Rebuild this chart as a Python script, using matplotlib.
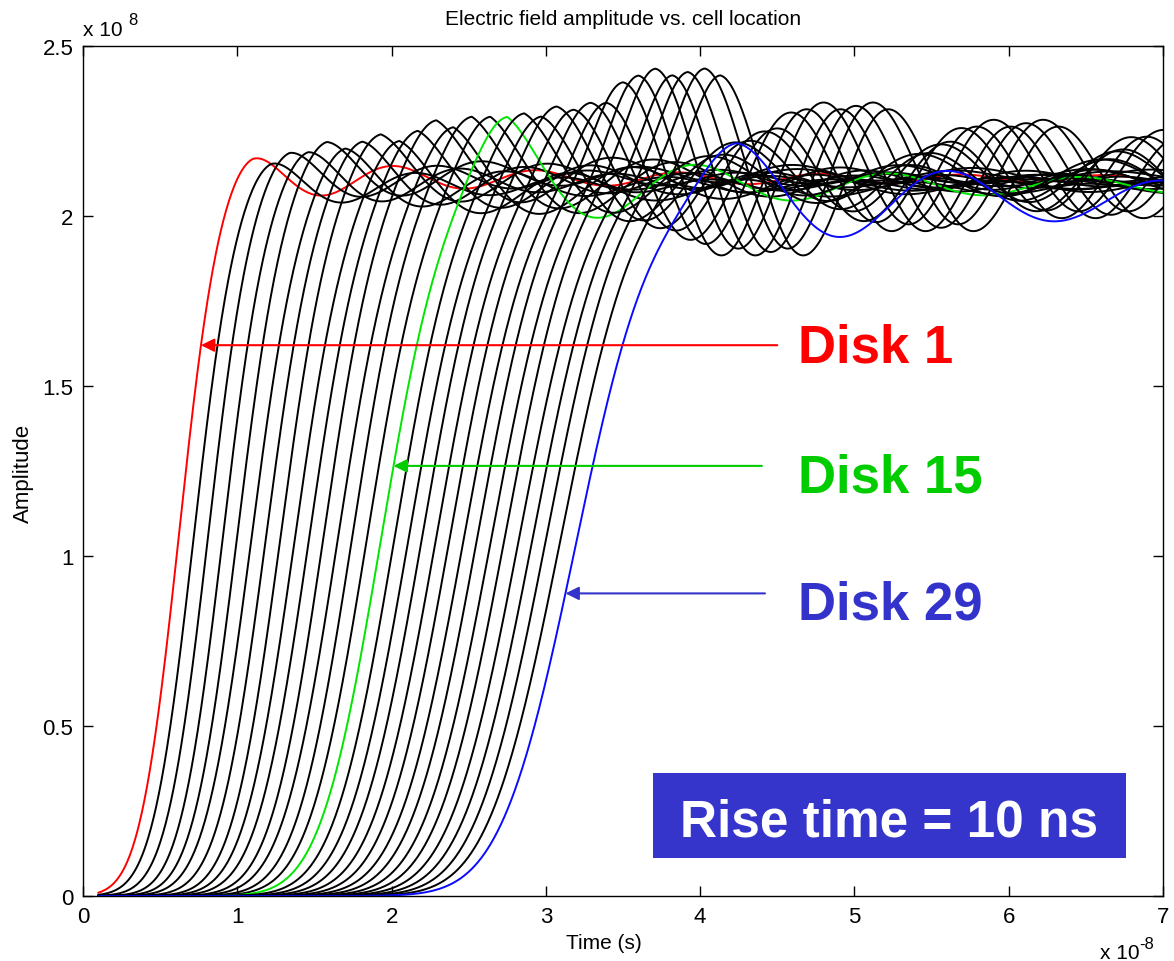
import math
import numpy as np
import matplotlib
matplotlib.use("Agg")
import matplotlib.pyplot as plt
from matplotlib.patches import Rectangle

# ---- per-disk waveform parameters (time in 1e-8 s, amplitude in 1e8) ----
disks = list(range(1, 30))
rise_mid = [0.62, 0.715, 0.81, 0.905, 1.00, 1.09, 1.185, 1.28, 1.37, 1.465,
            1.56, 1.65, 1.745, 1.84, 1.93, 2.02, 2.11, 2.20, 2.29, 2.38,
            2.47, 2.56, 2.65, 2.74, 2.83, 2.92, 3.01, 3.10, 3.19]
rise_spread = [0.20, 0.21, 0.215, 0.22, 0.23, 0.24, 0.245, 0.25, 0.26, 0.27,
               0.275, 0.285, 0.29, 0.30, 0.31, 0.315, 0.32, 0.325, 0.33, 0.335,
               0.34, 0.345, 0.35, 0.355, 0.36, 0.365, 0.37, 0.375, 0.38]
peak_time = [1.10, 1.22, 1.34, 1.46, 1.58, 1.70, 1.81, 1.93, 2.05, 2.17,
             2.29, 2.40, 2.52, 2.64, 2.75, 2.86, 2.97, 3.07, 3.18, 3.29,
             3.39, 3.50, 3.60, 3.71, 3.82, 3.92, 4.03, 4.13, 4.24]
overshoot = [0.075, 0.08, 0.09, 0.10, 0.11, 0.12, 0.13, 0.14, 0.15, 0.16,
             0.17, 0.18, 0.19, 0.20, 0.21, 0.20, 0.20, 0.21, 0.21, 0.22,
             0.23, 0.27, 0.30, 0.30, 0.30, 0.30, 0.30, 0.30, 0.17]
ring_period = [0.92, 0.95, 0.97, 1.00, 1.02, 1.05, 1.07, 1.10, 1.12, 1.14,
               1.16, 1.18, 1.20, 1.22, 1.24, 1.22, 1.20, 1.18, 1.16, 1.14,
               1.12, 1.10, 1.10, 1.10, 1.10, 1.10, 1.10, 1.10, 1.38]
ring_decay = [0.90, 0.80, 0.70, 0.65, 0.60, 0.55, 0.55, 0.50, 0.50, 0.50,
              0.50, 0.50, 0.50, 0.50, 0.50, 0.60, 0.80, 1.00, 1.30, 1.60,
              2.00, 2.00, 2.00, 2.00, 2.00, 2.00, 2.00, 2.00, 1.30]
final_level = [2.11, 2.09, 2.11, 2.10, 2.12, 2.09, 2.10, 2.11, 2.08, 2.10,
               2.12, 2.09, 2.11, 2.10, 2.09, 2.11, 2.10, 2.12, 2.11, 2.12,
               2.11, 2.13, 2.12, 2.14, 2.12, 2.13, 2.14, 2.12, 2.05]

# highlighted disks: label text and colours
highlight_disks = [1, 15, 29]
highlight_labels = ["Disk 1", "Disk 15", "Disk 29"]
line_colors = {1: "#ff0000", 15: "#00e600", 29: "#0a0aff"}
arrow_colors = {1: "#ff0000", 15: "#00cc00", 29: "#3333cc"}
text_colors = {1: "#ff0000", 15: "#00cc00", 29: "#3333cc"}

x_ticks = [0, 1, 2, 3, 4, 5, 6, 7]
y_ticks = [0, 0.5, 1, 1.5, 2, 2.5]

W, H = 1174, 962
fig = plt.figure(figsize=(W / 100, H / 100), dpi=100)
ax = fig.add_axes([83 / W, 1 - 897 / H, (1163 - 83) / W, (897 - 47) / H])

_erf = np.vectorize(math.erf)


def phi(z):
    return 0.5 * (1.0 + _erf(z / math.sqrt(2.0)))


def waveform(t, mid, spread, tpk, amp, period, decay, level):
    """Smooth step front, overshoot peak at tpk, then damped ringing."""
    front = level * phi((t - mid) / spread)
    dt = t - tpk
    width = period / (2 * np.pi)
    lead = amp * np.exp(-0.5 * (np.minimum(dt, 0) / width) ** 2)
    env = amp / (1.0 + np.clip(dt, 0, None) / decay)
    ring = np.where(dt < 0, lead, env * np.cos(2 * np.pi * dt / period))
    return front + ring


t = np.linspace(0.1, 7.0, 1600)
curves = {}
for i, d in enumerate(disks):
    y = waveform(t, rise_mid[i], rise_spread[i], peak_time[i], overshoot[i],
                 ring_period[i], ring_decay[i], final_level[i])
    curves[d] = y
    ax.plot(t, y, color=line_colors.get(d, "black"), lw=1.4, zorder=2 + i * 0.01)

ax.set_xlim(0, 7)
ax.set_ylim(0, 2.5)
ax.set_xticks(x_ticks)
ax.set_yticks(y_ticks)
ax.set_xticklabels([f"{v:g}" for v in x_ticks])
ax.set_yticklabels([f"{v:g}" for v in y_ticks])
tick_font = "Liberation Sans"
for lab in ax.get_xticklabels() + ax.get_yticklabels():
    lab.set_fontfamily(tick_font)
ax.tick_params(direction="in", length=7, width=1, top=True, right=True,
               labelsize=16, pad=7)
for s in ax.spines.values():
    s.set_linewidth(1.0)

ax.set_title("Electric field amplitude vs. cell location", fontsize=15,
             family=tick_font, pad=16)
ax.set_xlabel("Time (s)", fontsize=15, family=tick_font)
ax.xaxis.set_label_coords((604 - 83) / (1163 - 83), -0.043)
ax.set_ylabel("Amplitude", fontsize=16, family=tick_font)
ax.yaxis.set_label_coords((34 - 83) / (1163 - 83), (897 - 473) / (897 - 47))

# axis multipliers
fig.text(83 / W, 1 - 36 / H, "x 10", fontsize=15, family=tick_font,
         ha="left", va="baseline")
fig.text(128 / W, 1 - 25 / H, "8", fontsize=12, family=tick_font,
         ha="left", va="baseline")
fig.text(1100 / W, 1 - 944 / H, "x 10", fontsize=15, family=tick_font,
         ha="left", va="top")
fig.text(1139 / W, 1 - 937 / H, "-8", fontsize=12, family=tick_font,
         ha="left", va="top")

# labelled arrows pointing at the highlighted curves
arrow_levels = {1: 1.62, 15: 1.265, 29: 0.89}
arrow_tails = {1: 4.50, 15: 4.40, 29: 4.42}
text_base = {1: 1.571, 15: 1.191, 29: 0.815}
for d, label in zip(highlight_disks, highlight_labels):
    y = curves[d]
    lvl = arrow_levels[d]
    k = int(np.argmax(y >= lvl))
    tip = t[k - 1] + (lvl - y[k - 1]) * (t[k] - t[k - 1]) / (y[k] - y[k - 1])
    ax.annotate("", xy=(tip, lvl), xytext=(arrow_tails[d], lvl),
                arrowprops=dict(arrowstyle="-|>", color=arrow_colors[d],
                                lw=1.5, mutation_scale=20, shrinkA=0, shrinkB=0),
                zorder=5)
    ax.text(4.634, text_base[d], label, color=text_colors[d], fontsize=38,
            family="Liberation Sans", weight="bold", ha="left", va="baseline",
            zorder=6)

# rise-time box
ax.add_patch(Rectangle((3.694, 0.112), 6.760 - 3.694, 0.362 - 0.112,
                       facecolor="#3535cc", edgecolor="none", zorder=6))
ax.text(5.227, 0.179, "Rise time = 10 ns", color="white", fontsize=37,
        family="Liberation Sans", weight="bold", ha="center", va="baseline",
        zorder=7)

fig.savefig("out.png", dpi=100)
